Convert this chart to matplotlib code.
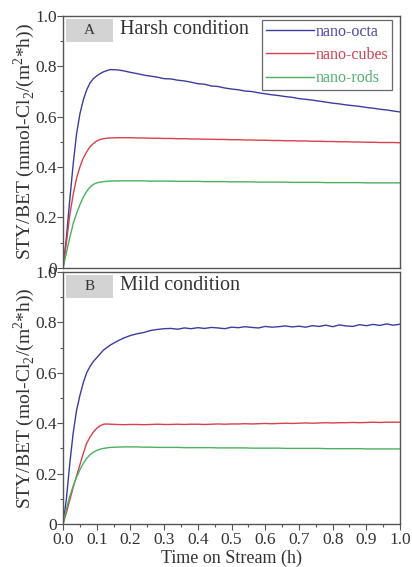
import matplotlib
matplotlib.use("Agg")
import matplotlib.pyplot as plt
from matplotlib.patches import Rectangle

plt.rcParams['font.family'] = ['Liberation Serif', 'DejaVu Serif']
plt.rcParams['mathtext.fontset'] = 'custom'
plt.rcParams['mathtext.rm'] = 'Liberation Serif'

# ---------------- data ----------------
t_rise = [0, 0.01, 0.02, 0.03, 0.04, 0.05, 0.06, 0.07, 0.08, 0.09, 0.10, 0.11, 0.12, 0.13, 0.14,
          0.16, 0.18, 0.20]
t_tail = [0.22, 0.24, 0.26, 0.28, 0.30, 0.32, 0.34, 0.36, 0.38, 0.40, 0.42, 0.44, 0.46, 0.48, 0.50,
          0.52, 0.54, 0.56, 0.58, 0.60, 0.62, 0.64, 0.66, 0.68, 0.70, 0.72, 0.74, 0.76, 0.78, 0.80,
          0.82, 0.84, 0.86, 0.88, 0.90, 0.92, 0.94, 0.96, 0.98, 1.00]
time = t_rise + t_tail

# Panel A: harsh condition
harsh_octa = [0, 0.12, 0.27, 0.41, 0.53, 0.61, 0.665, 0.705, 0.733, 0.75, 0.761, 0.77, 0.777, 0.782, 0.786,
              0.785, 0.781, 0.775,
              0.770, 0.764, 0.760, 0.756, 0.750, 0.749, 0.744, 0.741, 0.736, 0.730, 0.728, 0.721, 0.719, 0.713, 0.709,
              0.706, 0.701, 0.699, 0.694, 0.690, 0.686, 0.683, 0.679, 0.676, 0.671, 0.668, 0.665, 0.661, 0.657, 0.653,
              0.650, 0.646, 0.643, 0.640, 0.636, 0.633, 0.629, 0.626, 0.622, 0.618]
harsh_cubes = [0, 0.10, 0.21, 0.29, 0.355, 0.40, 0.435, 0.46, 0.48, 0.493, 0.503, 0.509, 0.512, 0.514, 0.515,
               0.516, 0.516, 0.516,
               0.515, 0.515, 0.514, 0.514, 0.513, 0.513, 0.512, 0.512, 0.511, 0.511, 0.510, 0.510, 0.509, 0.509, 0.508,
               0.508, 0.507, 0.507, 0.506, 0.506, 0.505, 0.505, 0.504, 0.504, 0.503, 0.503, 0.502, 0.502, 0.501, 0.501,
               0.500, 0.500, 0.499, 0.499, 0.498, 0.498, 0.497, 0.497, 0.497, 0.496]
harsh_rods = [0, 0.06, 0.12, 0.175, 0.215, 0.25, 0.28, 0.303, 0.32, 0.331, 0.337, 0.340, 0.342, 0.343, 0.344,
              0.345, 0.345, 0.345,
              0.345, 0.345, 0.344, 0.344, 0.344, 0.344, 0.343, 0.343, 0.343, 0.343, 0.342, 0.342, 0.342, 0.342, 0.341,
              0.341, 0.341, 0.341, 0.340, 0.340, 0.340, 0.340, 0.340, 0.339, 0.339, 0.339, 0.339, 0.339, 0.338, 0.338,
              0.338, 0.338, 0.338, 0.338, 0.337, 0.337, 0.337, 0.337, 0.337, 0.337]

# Panel B: mild condition
mild_octa = [0, 0.10, 0.24, 0.36, 0.45, 0.51, 0.56, 0.60, 0.625, 0.645, 0.66, 0.675, 0.69, 0.70, 0.71,
             0.725, 0.738, 0.748,
             0.755, 0.760, 0.768, 0.772, 0.775, 0.776, 0.773, 0.778, 0.775, 0.779, 0.776, 0.780, 0.778, 0.775, 0.781,
             0.779, 0.783, 0.780, 0.778, 0.784, 0.781, 0.783, 0.786, 0.782, 0.785, 0.781, 0.787, 0.784, 0.789, 0.783,
             0.790, 0.786, 0.784, 0.791, 0.787, 0.792, 0.788, 0.794, 0.789, 0.793]
mild_cubes = [0, 0.045, 0.095, 0.145, 0.19, 0.235, 0.28, 0.32, 0.345, 0.365, 0.38, 0.39, 0.396, 0.397, 0.396,
              0.395, 0.394, 0.395,
              0.395, 0.394, 0.395, 0.396, 0.395, 0.395, 0.396, 0.395, 0.396, 0.396, 0.395, 0.396, 0.397, 0.396, 0.397,
              0.397, 0.398, 0.397, 0.398, 0.399, 0.398, 0.399, 0.400, 0.399, 0.400, 0.401, 0.400, 0.401, 0.402, 0.401,
              0.402, 0.402, 0.403, 0.402, 0.403, 0.404, 0.403, 0.404, 0.404, 0.404]
mild_rods = [0, 0.06, 0.11, 0.15, 0.185, 0.215, 0.24, 0.26, 0.275, 0.285, 0.292, 0.297, 0.300, 0.302, 0.304,
             0.305, 0.306, 0.306,
             0.306, 0.305, 0.305, 0.304, 0.304, 0.304, 0.304, 0.303, 0.303, 0.303, 0.303, 0.303, 0.302, 0.302, 0.302,
             0.302, 0.302, 0.301, 0.301, 0.301, 0.301, 0.301, 0.300, 0.300, 0.300, 0.300, 0.300, 0.300, 0.299, 0.299,
             0.299, 0.299, 0.299, 0.299, 0.298, 0.298, 0.298, 0.298, 0.298, 0.298]

series_names = ['nano-octa', 'nano-cubes', 'nano-rods']
colors = ['#3b3d9e', '#d8404b', '#4bb05f']
legend_text_colors = ['#4a4aa8', '#d04050', '#50b070']
y_ticks = [0, 0.2, 0.4, 0.6, 0.8, 1.0]
y_ticklabels = ['0', '0.2', '0.4', '0.6', '0.8', '1.0']
x_ticks = [0.0, 0.1, 0.2, 0.3, 0.4, 0.5, 0.6, 0.7, 0.8, 0.9, 1.0]
x_ticklabels = ['0.0', '0.1', '0.2', '0.3', '0.4', '0.5', '0.6', '0.7', '0.8', '0.9', '1.0']

# ---------------- figure ----------------
fig = plt.figure(figsize=(4.12, 5.67), dpi=100)
axA = fig.add_axes([0.153, 0.5275, 0.818, 0.445])
axB = fig.add_axes([0.153, 0.0758, 0.818, 0.4445])

spine_c = '#555555'
text_c = '#333333'

def style(ax, show_x):
    ax.set_xlim(0, 1.0)
    ax.set_ylim(0, 1.0)
    for s in ax.spines.values():
        s.set_color(spine_c)
        s.set_linewidth(1.0)
    ax.set_yticks(y_ticks)
    ax.set_yticklabels(y_ticklabels)
    ax.set_yticks([0.1, 0.3, 0.5, 0.7, 0.9], minor=True)
    ax.tick_params(axis='y', which='major', direction='out', length=4, width=0.8,
                   color=spine_c, labelsize=12.5, pad=0.5, labelcolor=text_c)
    ax.tick_params(axis='y', which='minor', direction='out', length=2.5, width=0.8, color=spine_c)
    ax.tick_params(axis='y', right=False, which='both')
    if show_x:
        ax.set_xticks(x_ticks)
        ax.set_xticklabels(x_ticklabels)
        ax.set_xticks([0.05 + 0.1 * i for i in range(10)], minor=True)
        ax.tick_params(axis='x', which='major', direction='out', length=4, width=0.8,
                       color=spine_c, labelsize=12.5, pad=2, labelcolor=text_c)
        ax.tick_params(axis='x', which='minor', direction='out', length=2.5, width=0.8, color=spine_c)
    else:
        ax.set_xticks([])

style(axA, False)
style(axB, True)

for vals, name, c in zip([harsh_octa, harsh_cubes, harsh_rods], series_names, colors):
    axA.plot(time, vals, color=c, lw=1.0, label=name)
for vals, name, c in zip([mild_octa, mild_cubes, mild_rods], series_names, colors):
    axB.plot(time, vals, color=c, lw=1.0, label=name)

leg = axA.legend(loc='upper right', bbox_to_anchor=(0.977, 0.983), frameon=True, fancybox=False,
                 fontsize=11.5, handlelength=3.0, handletextpad=0.1, borderpad=0.25,
                 labelspacing=0.45, borderaxespad=0.0)
leg.get_frame().set_edgecolor('#444444')
leg.get_frame().set_linewidth(0.9)
for txt, c in zip(leg.get_texts(), legend_text_colors):
    txt.set_color(c)

def panel_label(ax, letter, text):
    ax.add_patch(Rectangle((0.009, 0.897), 0.14, 0.091, transform=ax.transAxes,
                           facecolor='#d3d3d3', edgecolor='none', zorder=3))
    ax.text(0.079, 0.942, letter, transform=ax.transAxes, ha='center', va='center',
            fontsize=11, color=text_c, zorder=4)
    ax.text(0.17, 0.945, text, transform=ax.transAxes, ha='left', va='center',
            fontsize=14.5, color=text_c, zorder=4)

panel_label(axA, 'A', 'Harsh condition')
panel_label(axB, 'B', 'Mild condition')

axA.set_ylabel(r'STY/BET (mmol-Cl$_2$/(m$^2$*h))', fontsize=14, color=text_c, labelpad=-1)
axB.set_ylabel(r'STY/BET (mol-Cl$_2$/(m$^2$*h))', fontsize=14, color=text_c, labelpad=-1)
axB.set_xlabel('Time on Stream (h)', fontsize=13, color=text_c, labelpad=1)

fig.savefig('out.png', dpi=100)
